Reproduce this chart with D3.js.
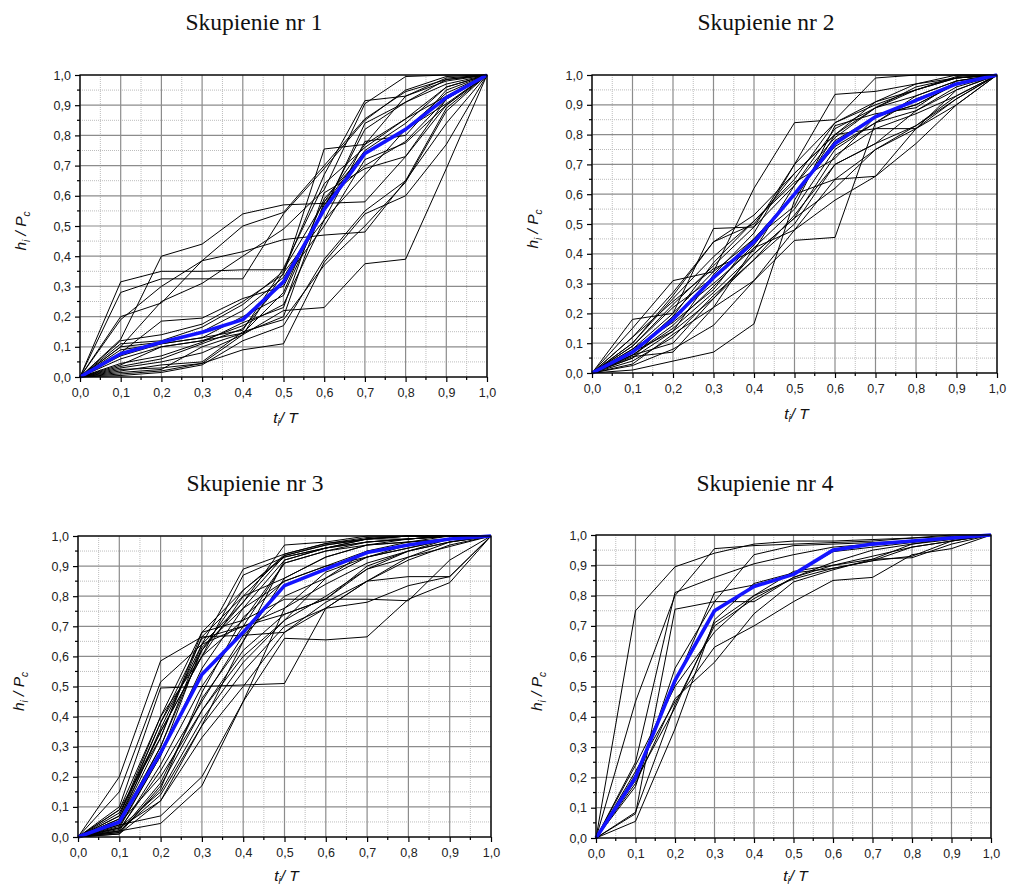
<!DOCTYPE html>
<html>
<head>
<meta charset="utf-8">
<script src="https://cdn.jsdelivr.net/npm/d3@7"></script>
<style>
  html, body { margin: 0; padding: 0; background: #fff; }
  svg { display: block; }
</style>
</head>
<body>
<svg id="chart" width="1009" height="888"></svg>
<script>
// Relative time t_i/T at which every curve is sampled
const tValues = [0, 0.1, 0.2, 0.3, 0.4, 0.5, 0.6, 0.7, 0.8, 0.9, 1.0];
const tickLabels = ["0,0", "0,1", "0,2", "0,3", "0,4", "0,5", "0,6", "0,7", "0,8", "0,9", "1,0"];
const panelTitles = ["Skupienie nr 1", "Skupienie nr 2", "Skupienie nr 3", "Skupienie nr 4"];

// Cluster 1: individual cumulative curves h_i/P_c and the cluster mean
const cluster1Curves = [
  [0, 0.315, 0.35, 0.35, 0.355, 0.355, 0.58, 0.77, 0.93, 0.99, 1],
  [0, 0.28, 0.325, 0.325, 0.325, 0.54, 0.69, 0.85, 0.95, 0.995, 1],
  [0, 0.20, 0.245, 0.385, 0.415, 0.455, 0.47, 0.48, 0.65, 0.84, 1],
  [0, 0.125, 0.40, 0.44, 0.54, 0.57, 0.575, 0.58, 0.73, 0.92, 1],
  [0, 0.19, 0.30, 0.385, 0.50, 0.545, 0.70, 0.855, 0.945, 0.985, 1],
  [0, 0.10, 0.25, 0.31, 0.40, 0.49, 0.62, 0.905, 0.995, 1, 1],
  [0, 0.12, 0.14, 0.175, 0.25, 0.34, 0.755, 0.77, 0.855, 0.93, 1],
  [0, 0.11, 0.12, 0.165, 0.24, 0.35, 0.67, 0.915, 0.93, 0.98, 1],
  [0, 0.10, 0.115, 0.15, 0.22, 0.33, 0.55, 0.84, 0.91, 0.97, 1],
  [0, 0.08, 0.185, 0.195, 0.26, 0.30, 0.56, 0.82, 0.91, 0.985, 1],
  [0, 0.07, 0.11, 0.13, 0.20, 0.27, 0.57, 0.75, 0.84, 0.96, 1],
  [0, 0.04, 0.10, 0.12, 0.17, 0.24, 0.52, 0.78, 0.80, 0.95, 1],
  [0, 0.035, 0.06, 0.11, 0.16, 0.32, 0.50, 0.72, 0.775, 0.90, 1],
  [0, 0.03, 0.05, 0.08, 0.14, 0.22, 0.23, 0.375, 0.39, 0.69, 1],
  [0, 0.01, 0.02, 0.045, 0.09, 0.11, 0.38, 0.54, 0.60, 0.77, 1],
  [0, 0.02, 0.04, 0.05, 0.15, 0.19, 0.37, 0.50, 0.645, 0.88, 1],
  [0, 0.005, 0.015, 0.04, 0.12, 0.17, 0.39, 0.55, 0.65, 0.89, 1],
  [0, 0.06, 0.10, 0.12, 0.145, 0.20, 0.58, 0.70, 0.78, 0.92, 1],
  [0, 0.045, 0.07, 0.115, 0.18, 0.23, 0.61, 0.69, 0.73, 0.90, 1],
  [0, 0.025, 0.03, 0.045, 0.14, 0.345, 0.52, 0.67, 0.82, 0.94, 1],
  [0, 0.09, 0.11, 0.13, 0.155, 0.36, 0.64, 0.76, 0.855, 0.96, 1],
  [0, 0.015, 0.025, 0.10, 0.145, 0.28, 0.59, 0.74, 0.82, 0.905, 1]
];
const cluster1Mean = [0, 0.077, 0.115, 0.148, 0.19, 0.315, 0.555, 0.74, 0.82, 0.925, 1];

// Cluster 2
const cluster2Curves = [
  [0, 0.18, 0.20, 0.485, 0.49, 0.70, 0.935, 0.945, 0.97, 0.99, 1],
  [0, 0.15, 0.31, 0.34, 0.62, 0.84, 0.85, 0.99, 1, 1, 1],
  [0, 0.12, 0.27, 0.44, 0.53, 0.67, 0.80, 0.91, 0.97, 1, 1],
  [0, 0.10, 0.25, 0.39, 0.51, 0.65, 0.84, 0.90, 0.95, 0.995, 1],
  [0, 0.09, 0.23, 0.36, 0.49, 0.63, 0.82, 0.89, 0.93, 0.98, 1],
  [0, 0.08, 0.20, 0.34, 0.45, 0.60, 0.78, 0.86, 0.90, 0.97, 1],
  [0, 0.07, 0.19, 0.30, 0.42, 0.55, 0.75, 0.84, 0.88, 0.95, 1],
  [0, 0.06, 0.15, 0.27, 0.40, 0.52, 0.73, 0.82, 0.87, 0.93, 1],
  [0, 0.05, 0.14, 0.25, 0.38, 0.50, 0.70, 0.77, 0.83, 0.92, 1],
  [0, 0.03, 0.13, 0.22, 0.31, 0.48, 0.65, 0.75, 0.82, 0.90, 1],
  [0, 0.01, 0.04, 0.07, 0.165, 0.58, 0.80, 0.89, 0.95, 0.99, 1],
  [0, 0.025, 0.08, 0.16, 0.31, 0.445, 0.455, 0.84, 0.93, 0.98, 1],
  [0, 0.055, 0.07, 0.22, 0.42, 0.48, 0.58, 0.66, 0.77, 0.90, 1],
  [0, 0.06, 0.10, 0.25, 0.40, 0.52, 0.62, 0.75, 0.83, 0.93, 1],
  [0, 0.08, 0.17, 0.28, 0.45, 0.60, 0.65, 0.66, 0.82, 0.92, 1],
  [0, 0.07, 0.14, 0.33, 0.47, 0.70, 0.84, 0.91, 0.95, 0.99, 1],
  [0, 0.10, 0.26, 0.44, 0.50, 0.67, 0.80, 0.82, 0.82, 0.95, 1],
  [0, 0.05, 0.19, 0.37, 0.51, 0.64, 0.72, 0.86, 0.90, 0.97, 1],
  [0, 0.09, 0.22, 0.32, 0.45, 0.56, 0.83, 0.87, 0.89, 0.98, 1],
  [0, 0.04, 0.12, 0.26, 0.38, 0.53, 0.70, 0.77, 0.88, 0.96, 1],
  [0, 0.12, 0.24, 0.35, 0.41, 0.63, 0.79, 0.89, 0.96, 0.99, 1],
  [0, 0.06, 0.16, 0.29, 0.43, 0.60, 0.76, 0.84, 0.92, 0.97, 1]
];
const cluster2Mean = [0, 0.07, 0.18, 0.32, 0.44, 0.60, 0.77, 0.86, 0.915, 0.97, 1];

// Cluster 3
const cluster3Curves = [
  [0, 0.20, 0.585, 0.665, 0.80, 0.86, 0.93, 0.97, 0.99, 1, 1],
  [0, 0.15, 0.515, 0.64, 0.89, 0.94, 0.975, 0.99, 1, 1, 1],
  [0, 0.10, 0.495, 0.50, 0.505, 0.51, 0.76, 0.85, 0.93, 0.98, 1],
  [0, 0.09, 0.40, 0.68, 0.72, 0.79, 0.79, 0.79, 0.785, 0.92, 1],
  [0, 0.07, 0.38, 0.62, 0.82, 0.935, 0.97, 0.99, 1, 1, 1],
  [0, 0.06, 0.35, 0.60, 0.87, 0.93, 0.96, 0.98, 0.99, 1, 1],
  [0, 0.05, 0.33, 0.665, 0.67, 0.68, 0.76, 0.85, 0.92, 0.97, 1],
  [0, 0.04, 0.30, 0.64, 0.78, 0.97, 0.98, 1, 1, 1, 1],
  [0, 0.03, 0.27, 0.56, 0.76, 0.92, 0.96, 0.99, 1, 1, 1],
  [0, 0.02, 0.24, 0.50, 0.70, 0.91, 0.95, 0.98, 0.99, 1, 1],
  [0, 0.015, 0.18, 0.46, 0.65, 0.86, 0.93, 0.97, 0.98, 0.99, 1],
  [0, 0.01, 0.17, 0.42, 0.62, 0.74, 0.79, 0.89, 0.95, 0.99, 1],
  [0, 0.03, 0.15, 0.39, 0.58, 0.72, 0.86, 0.95, 0.98, 1, 1],
  [0, 0.02, 0.14, 0.37, 0.55, 0.70, 0.76, 0.78, 0.835, 0.865, 1],
  [0, 0.01, 0.12, 0.33, 0.50, 0.68, 0.78, 0.85, 0.865, 0.865, 1],
  [0, 0.04, 0.07, 0.20, 0.45, 0.66, 0.655, 0.665, 0.79, 0.845, 1],
  [0, 0.02, 0.045, 0.17, 0.45, 0.76, 0.88, 0.93, 0.97, 0.99, 1],
  [0, 0.05, 0.30, 0.62, 0.78, 0.935, 0.97, 0.99, 1, 1, 1],
  [0, 0.09, 0.33, 0.68, 0.82, 0.93, 0.96, 0.98, 0.99, 1, 1],
  [0, 0.06, 0.38, 0.66, 0.70, 0.74, 0.79, 0.90, 0.95, 0.98, 1],
  [0, 0.035, 0.27, 0.63, 0.76, 0.85, 0.90, 0.95, 0.97, 0.99, 1],
  [0, 0.025, 0.22, 0.45, 0.67, 0.80, 0.86, 0.93, 0.96, 0.99, 1],
  [0, 0.08, 0.35, 0.60, 0.80, 0.94, 0.975, 0.995, 1, 1, 1],
  [0, 0.045, 0.20, 0.42, 0.60, 0.72, 0.80, 0.89, 0.93, 0.965, 1],
  [0, 0.03, 0.12, 0.37, 0.65, 0.92, 0.96, 0.99, 0.99, 1, 1],
  [0, 0.015, 0.16, 0.48, 0.73, 0.85, 0.90, 0.93, 0.96, 0.99, 1],
  [0, 0.05, 0.36, 0.64, 0.70, 0.76, 0.84, 0.91, 0.95, 0.98, 1],
  [0, 0.07, 0.40, 0.60, 0.72, 0.91, 0.95, 0.97, 0.98, 0.99, 1]
];
const cluster3Mean = [0, 0.05, 0.28, 0.54, 0.68, 0.835, 0.89, 0.945, 0.97, 0.99, 1];

// Cluster 4
const cluster4Curves = [
  [0, 0.75, 0.895, 0.94, 0.97, 0.98, 0.98, 0.985, 0.99, 0.995, 1],
  [0, 0.45, 0.80, 0.955, 0.965, 0.97, 0.975, 0.98, 0.99, 1, 1],
  [0, 0.25, 0.81, 0.86, 0.905, 0.935, 0.96, 0.97, 0.98, 0.99, 1],
  [0, 0.08, 0.755, 0.78, 0.78, 0.86, 0.90, 0.92, 0.97, 0.99, 1],
  [0, 0.17, 0.56, 0.78, 0.935, 0.965, 0.97, 0.975, 0.98, 0.99, 1],
  [0, 0.055, 0.36, 0.72, 0.84, 0.875, 0.89, 0.915, 0.93, 0.98, 1],
  [0, 0.22, 0.45, 0.63, 0.70, 0.78, 0.85, 0.86, 0.935, 0.955, 1],
  [0, 0.18, 0.46, 0.58, 0.74, 0.845, 0.885, 0.92, 0.925, 0.97, 1],
  [0, 0.24, 0.50, 0.68, 0.80, 0.88, 0.90, 0.93, 0.96, 0.98, 1],
  [0, 0.085, 0.44, 0.70, 0.79, 0.86, 0.91, 0.95, 0.97, 0.985, 1],
  [0, 0.21, 0.51, 0.81, 0.835, 0.87, 0.945, 0.96, 0.975, 0.99, 1],
  [0, 0.19, 0.43, 0.71, 0.80, 0.855, 0.89, 0.915, 0.96, 0.98, 1]
];
const cluster4Mean = [0, 0.20, 0.52, 0.75, 0.83, 0.87, 0.95, 0.97, 0.98, 0.99, 1];

// Plot frames for the 2x2 grid of panels
const panels = [
  { title: panelTitles[0], curves: cluster1Curves, mean: cluster1Mean,
    left: 80, right: 487, top: 75, bottom: 377, titleX: 254, titleY: 30, xTitleGap: 46 },
  { title: panelTitles[1], curves: cluster2Curves, mean: cluster2Mean,
    left: 592, right: 997, top: 75, bottom: 373, titleX: 766, titleY: 30, xTitleGap: 46 },
  { title: panelTitles[2], curves: cluster3Curves, mean: cluster3Mean,
    left: 78, right: 491, top: 536, bottom: 837, titleX: 255, titleY: 491, xTitleGap: 44 },
  { title: panelTitles[3], curves: cluster4Curves, mean: cluster4Mean,
    left: 596, right: 991, top: 535, bottom: 838, titleX: 765, titleY: 491, xTitleGap: 43 }
];

const minorTicks = d3.pairs(tValues).map(([a, b]) => (a + b) / 2);
const svg = d3.select("#chart");
const sans = "'Liberation Sans', Arial, sans-serif";

panels.forEach((p) => {
  const x = d3.scaleLinear().domain([0, 1]).range([p.left, p.right]);
  const y = d3.scaleLinear().domain([0, 1]).range([p.bottom, p.top]);
  const w = p.right - p.left, h = p.bottom - p.top;
  const g = svg.append("g");

  // minor grid (dotted)
  const minorGrid = g.append("g");
  minorGrid.selectAll("line.vx").data(minorTicks).join("line")
    .attr("x1", d => x(d)).attr("x2", d => x(d))
    .attr("y1", p.top).attr("y2", p.bottom)
    .attr("stroke", "#bdbdbd").attr("stroke-width", 1).attr("stroke-dasharray", "1,1");
  minorGrid.selectAll("line.hy").data(minorTicks).join("line")
    .attr("y1", d => y(d)).attr("y2", d => y(d))
    .attr("x1", p.left).attr("x2", p.right)
    .attr("stroke", "#bdbdbd").attr("stroke-width", 1).attr("stroke-dasharray", "1,1");

  // major grid
  const majorGrid = g.append("g");
  majorGrid.selectAll("line.v").data(tValues).join("line")
    .attr("x1", d => x(d)).attr("x2", d => x(d))
    .attr("y1", p.top).attr("y2", p.bottom)
    .attr("stroke", "#8c8c8c").attr("stroke-width", 1.2);
  majorGrid.selectAll("line.h").data(tValues).join("line")
    .attr("y1", d => y(d)).attr("y2", d => y(d))
    .attr("x1", p.left).attr("x2", p.right)
    .attr("stroke", "#8c8c8c").attr("stroke-width", 1.2);

  // individual curves
  const line = d3.line().x((d, i) => x(tValues[i])).y(d => y(d));
  g.append("g").selectAll("path").data(p.curves).join("path")
    .attr("d", line)
    .attr("fill", "none").attr("stroke", "#000").attr("stroke-width", 1)
    .attr("stroke-linejoin", "miter");

  // cluster mean
  g.append("path").datum(p.mean)
    .attr("d", line)
    .attr("fill", "none").attr("stroke", "#1414ff").attr("stroke-width", 3.6)
    .attr("stroke-linejoin", "round");

  // axes
  const fmt = (d, i) => tickLabels[i];
  const xAxis = g.append("g").attr("transform", `translate(0,${p.bottom})`)
    .call(d3.axisBottom(x).tickValues(tValues).tickFormat(fmt).tickSize(5).tickPadding(6));
  const yAxis = g.append("g").attr("transform", `translate(${p.left},0)`)
    .call(d3.axisLeft(y).tickValues(tValues).tickFormat(fmt).tickSize(5).tickPadding(4));
  [xAxis, yAxis].forEach(a => {
    a.select(".domain").remove();
    a.selectAll("line").attr("stroke", "#000").attr("stroke-width", 1.2);
    a.selectAll("text").attr("font-family", sans).attr("font-size", 12.5).attr("fill", "#222");
  });
  xAxis.selectAll("line.minor").data(minorTicks).join("line").attr("class", "minor")
    .attr("x1", d => x(d)).attr("x2", d => x(d)).attr("y1", 0).attr("y2", 3)
    .attr("stroke", "#000").attr("stroke-width", 1.2);
  yAxis.selectAll("line.minor").data(minorTicks).join("line").attr("class", "minor")
    .attr("y1", d => y(d)).attr("y2", d => y(d)).attr("x1", 0).attr("x2", -3)
    .attr("stroke", "#000").attr("stroke-width", 1.2);

  // frame
  g.append("rect").attr("x", p.left).attr("y", p.top).attr("width", w).attr("height", h)
    .attr("fill", "none").attr("stroke", "#000").attr("stroke-width", 1.3);

  // title
  svg.append("text").attr("x", p.titleX).attr("y", p.titleY)
    .attr("text-anchor", "middle")
    .attr("font-family", "'Liberation Serif', 'Times New Roman', serif")
    .attr("font-size", 23.5).attr("fill", "#111")
    .text(p.title);

  // x-axis title: t_i / T
  const xt = svg.append("text")
    .attr("x", (p.left + p.right) / 2 + 2).attr("y", p.bottom + p.xTitleGap)
    .attr("text-anchor", "middle").attr("font-family", sans)
    .attr("font-style", "italic").attr("font-size", 15.5).attr("fill", "#111");
  xt.append("tspan").text("t");
  xt.append("tspan").attr("font-size", 10).attr("dy", 3).text("i");
  xt.append("tspan").attr("dy", -3).text("/ T");

  // y-axis title: h_i / P_c
  const cy = (p.top + p.bottom) / 2 + 5, cx = p.left - 54;
  const yt = svg.append("text")
    .attr("transform", `translate(${cx},${cy}) rotate(-90)`)
    .attr("text-anchor", "middle").attr("font-family", sans)
    .attr("font-style", "italic").attr("font-size", 15.5).attr("fill", "#111");
  yt.append("tspan").text("h");
  yt.append("tspan").attr("font-size", 10).attr("dy", 4).text("i");
  yt.append("tspan").attr("dy", -4).text(" / P");
  yt.append("tspan").attr("font-size", 10).attr("dy", 4).text("c");
});
</script>
</body>
</html>
